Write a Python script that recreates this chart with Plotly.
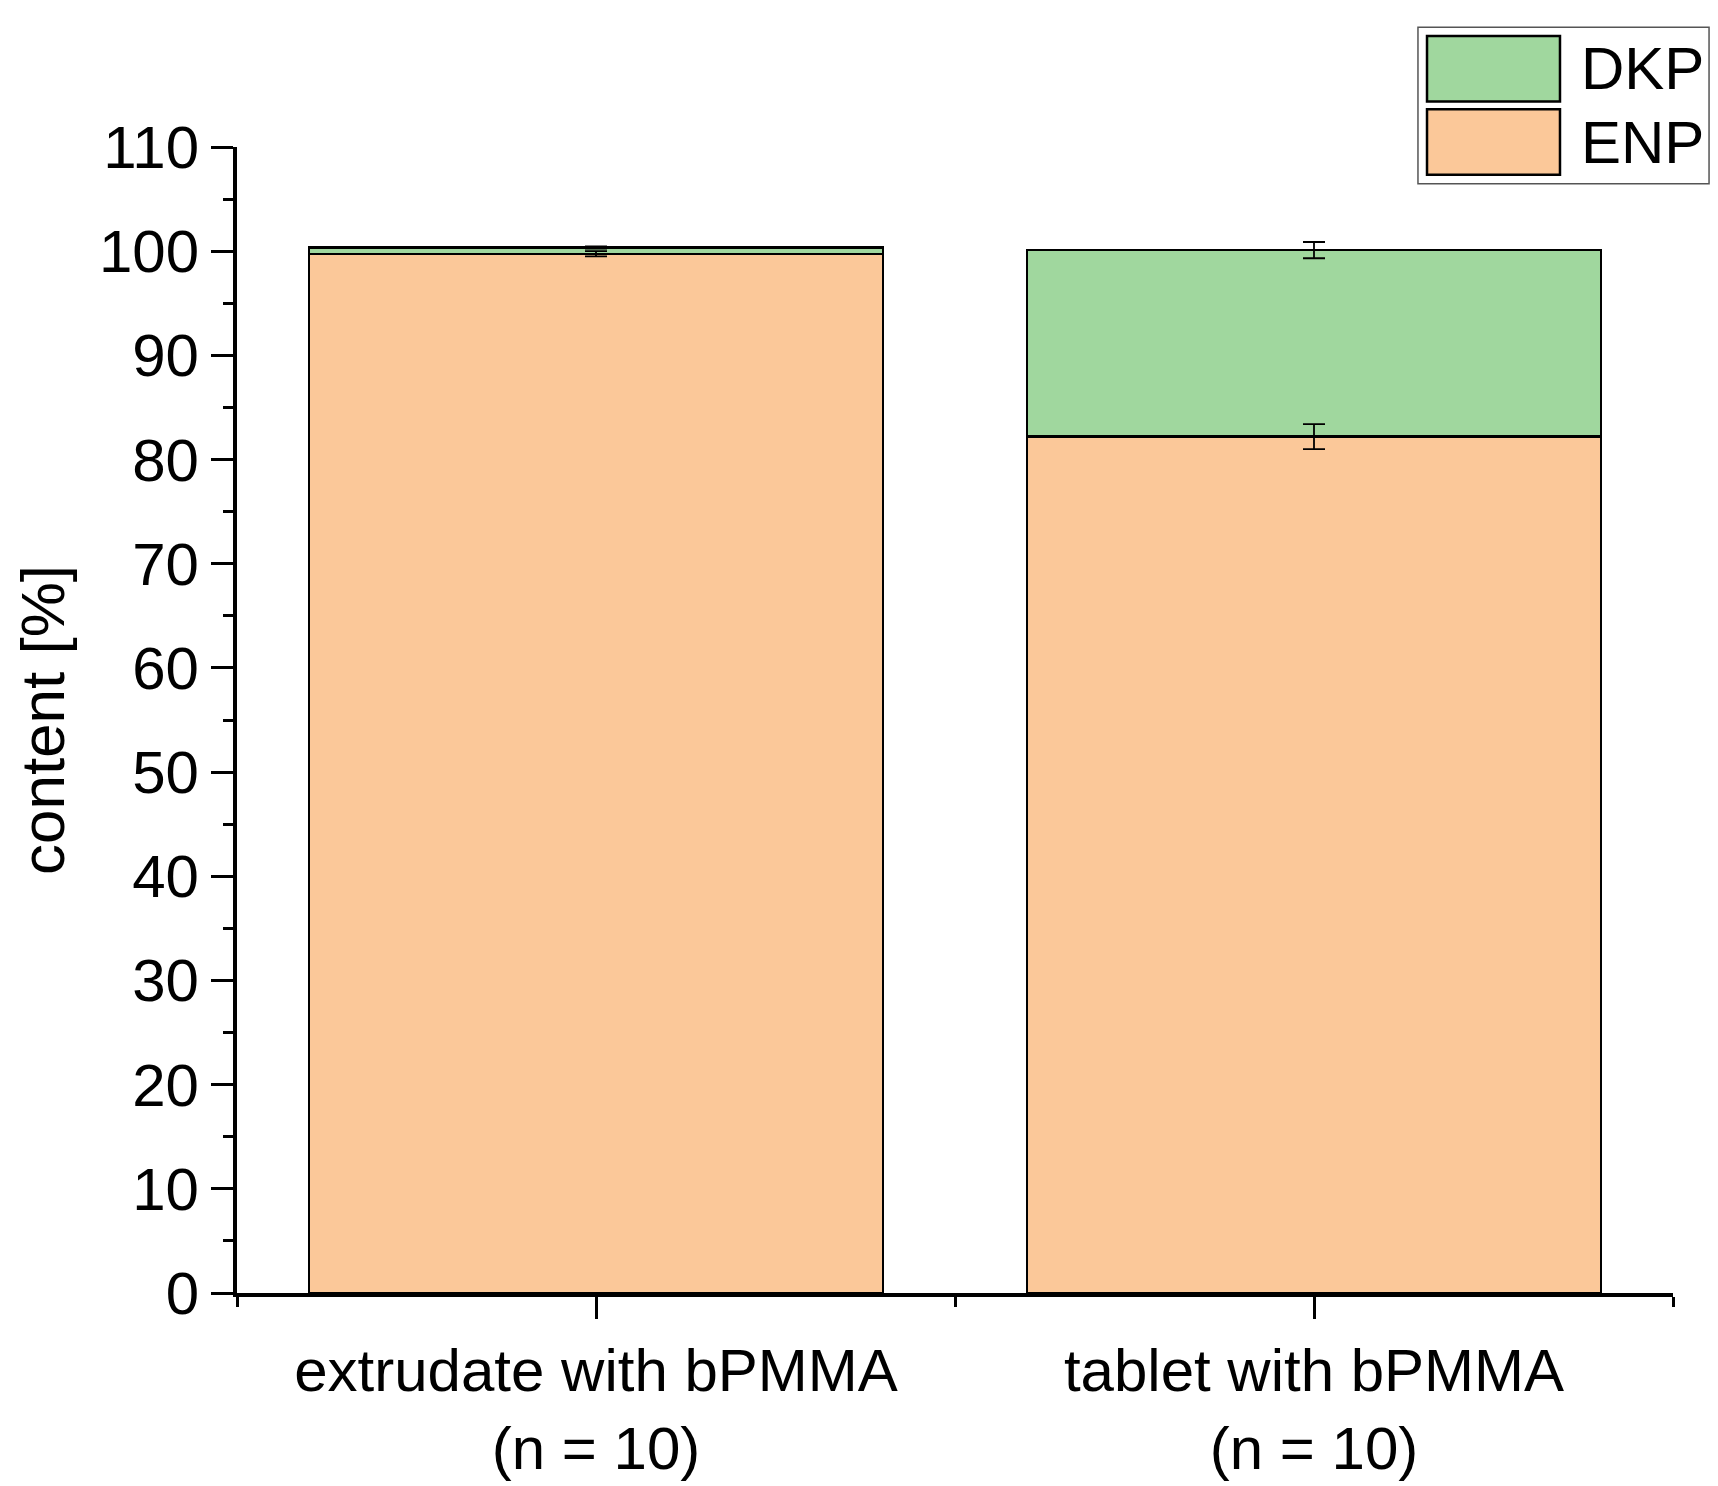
import plotly.graph_objects as go

categories = ["extrudate with bPMMA<br>(n = 10)", "tablet with bPMMA<br>(n = 10)"]
enp_values = [99.75, 82.2]
enp_errors = [0.25, 1.2]
dkp_values = [0.6, 17.9]
dkp_errors = [0.1, 0.78]
series_names = ["DKP", "ENP"]
y_ticks = list(range(0, 111, 10))

GREEN = "#A0D79E"
ORANGE = "#FBC899"
FONT = "Liberation Sans, Arial, sans-serif"

xpos = list(range(len(categories)))
dkp_tops = [e + d for e, d in zip(enp_values, dkp_values)]

fig = go.Figure()
fig.add_trace(go.Bar(
    x=xpos, y=enp_values, name="ENP", width=0.8,
    marker=dict(color=ORANGE, line=dict(color="black", width=2.3)),
    showlegend=False,
))
fig.add_trace(go.Bar(
    x=xpos, y=dkp_values, name="DKP", width=0.8,
    marker=dict(color=GREEN, line=dict(color="black", width=2.3)),
    showlegend=False,
))
# error bars drawn on top of the stacked bars
for yv, err in [(enp_values, enp_errors), (dkp_tops, dkp_errors)]:
    fig.add_trace(go.Scatter(
        x=xpos, y=yv, mode="markers", marker=dict(size=1, opacity=0),
        error_y=dict(type="data", array=err, visible=True, color="black",
                     thickness=1.8, width=11),
        showlegend=False, hoverinfo="skip",
    ))

fig.update_layout(
    barmode="stack",
    width=1718, height=1486,
    margin=dict(l=229, r=53, t=139, b=190),
    plot_bgcolor="white", paper_bgcolor="white",
    font=dict(family=FONT, size=60, color="black"),
    showlegend=False,
)
fig.update_xaxes(
    range=[-0.5, 1.5], tickmode="array", tickvals=xpos, ticktext=categories,
    showgrid=False, zeroline=False, showline=True, linecolor="black", linewidth=4,
    ticks="outside", ticklen=22, tickwidth=3, tickcolor="black",
    tickfont=dict(size=60),
    minor=dict(tickmode="linear", tick0=-0.5, dtick=1, ticks="outside",
               ticklen=10, tickwidth=3, tickcolor="black", showgrid=False),
)
fig.update_yaxes(
    range=[0, 110], tickmode="array", tickvals=y_ticks,
    showgrid=False, zeroline=False, showline=True, linecolor="black", linewidth=4,
    ticks="outside", ticklen=22, tickwidth=3, tickcolor="black",
    tickfont=dict(size=60),
    minor=dict(tickmode="linear", tick0=0, dtick=5, ticks="outside",
               ticklen=10, tickwidth=3, tickcolor="black", showgrid=False),
    title=dict(text="content [%]", font=dict(size=62), standoff=22),
)

# custom legend (large swatches as in the reference)
fig.add_shape(type="rect", xref="paper", yref="paper",
              x0=0.8224, x1=1.0251, y0=0.9680, y1=1.1046,
              line=dict(color="#555555", width=1.5), fillcolor="white", layer="above")
legend_items = [(series_names[0], GREEN, 1.0968, 1.0398),
                (series_names[1], ORANGE, 1.0329, 0.9758)]
for name, col, ytop, ybot in legend_items:
    fig.add_shape(type="rect", xref="paper", yref="paper",
                  x0=0.8287, x1=0.9213, y0=ybot, y1=ytop,
                  line=dict(color="black", width=2.5), fillcolor=col, layer="above")
    fig.add_annotation(xref="paper", yref="paper", x=0.9345, y=(ytop + ybot) / 2,
                       text=name, showarrow=False, xanchor="left", yanchor="middle",
                       font=dict(size=60, family=FONT, color="black"))

fig.write_html("out.html")
